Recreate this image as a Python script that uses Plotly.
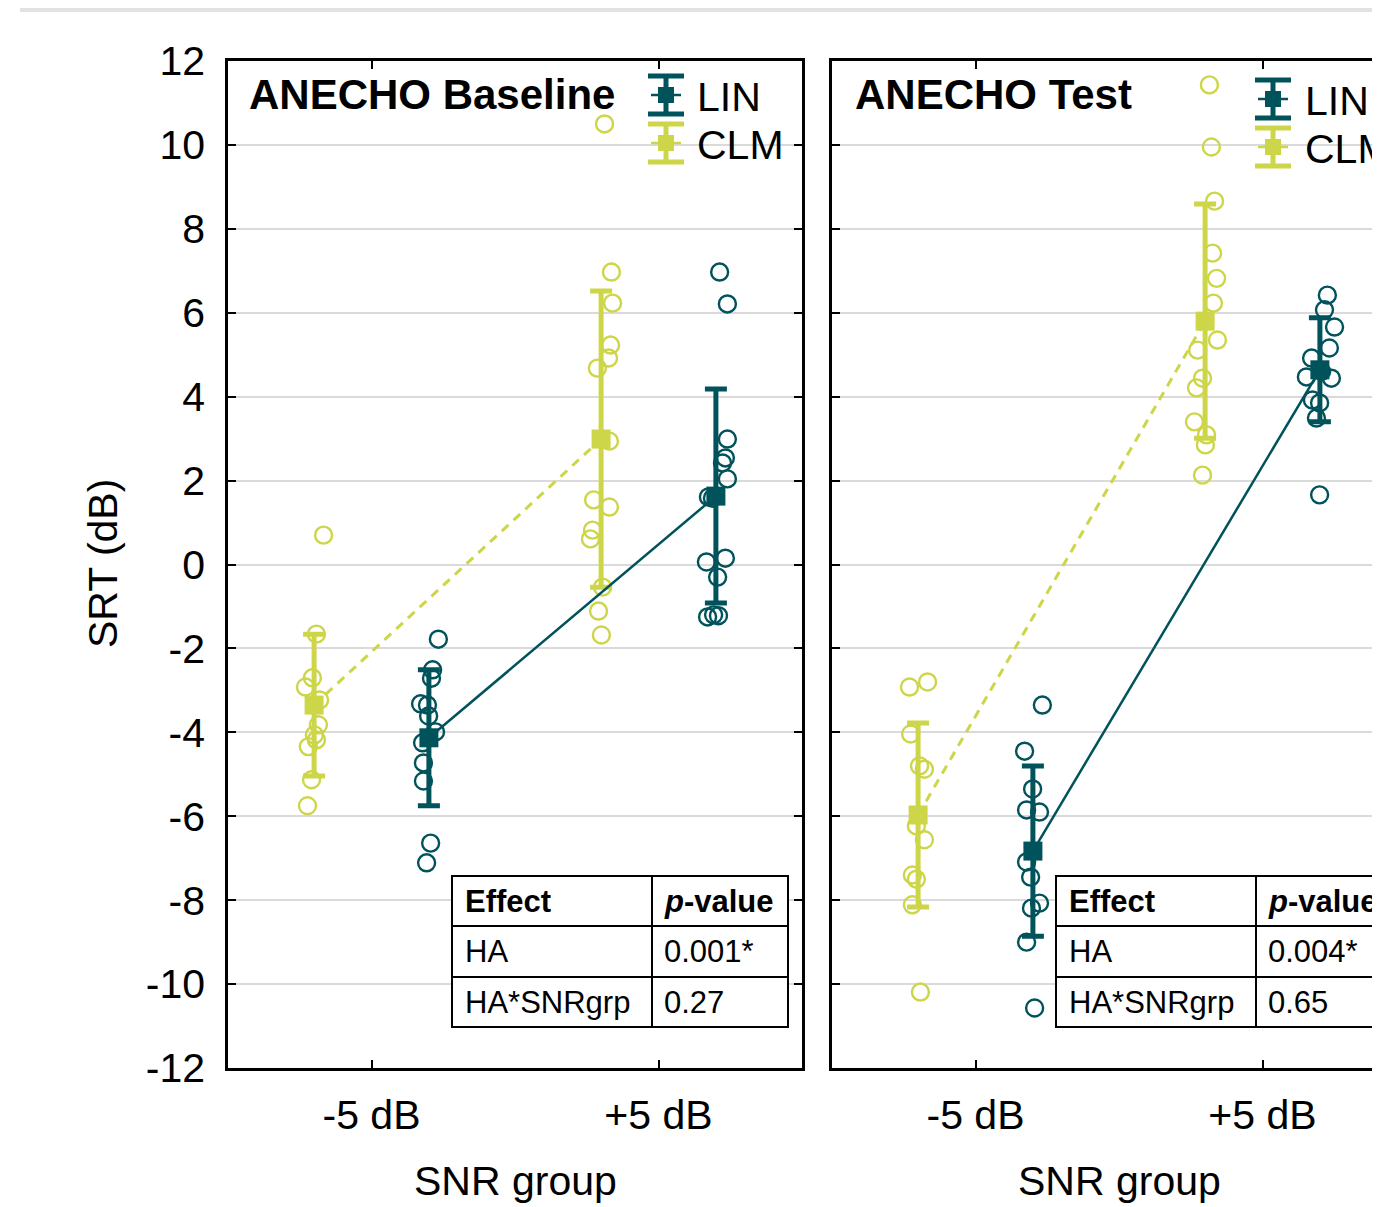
import plotly.graph_objects as go

# ---------------- data ----------------
snr_groups = ["-5 dB", "+5 dB"]
y_tick_vals = [-12, -10, -8, -6, -4, -2, 0, 2, 4, 6, 8, 10, 12]
y_tick_text = ["-12", "-10", "-8", "-6", "-4", "-2", "0", "2", "4", "6", "8", "10", "12"]
panel_titles = ["ANECHO Baseline", "ANECHO Test"]
ha_names = ["LIN", "CLM"]

# individual SRTs (dB) per panel / HA / SNR group
base_clm_m5 = [0.70, -1.66, -2.70, -2.92, -3.23, -3.82, -4.06, -4.34, -4.18, -5.13, -5.75]
base_clm_m5_jit = [0.033, 0.008, -0.006, -0.030, 0.019, 0.015, 0.001, -0.020, 0.008, -0.009, -0.023]
base_lin_m5 = [-1.78, -2.51, -2.71, -3.32, -3.35, -3.61, -3.99, -4.25, -4.73, -5.16, -6.64, -7.11]
base_lin_m5_jit = [0.033, 0.013, 0.009, -0.029, -0.005, -0.001, 0.023, -0.022, -0.019, -0.019, 0.006, -0.008]
base_clm_p5 = [10.50, 6.97, 6.23, 5.23, 4.92, 4.68, 2.94, 1.54, 1.37, 0.82, 0.61, -0.54, -1.11, -1.68]
base_clm_p5_jit = [0.012, 0.036, 0.040, 0.033, 0.026, -0.013, 0.029, -0.026, 0.029, -0.030, -0.037, 0.005, -0.009, 0.001]
base_lin_p5 = [6.97, 6.21, 2.99, 2.54, 2.42, 2.04, 1.61, 1.58, 0.06, 0.15, -0.30, -1.25, -1.20, -1.22]
base_lin_p5_jit = [0.013, 0.040, 0.040, 0.033, 0.023, 0.040, -0.026, -0.012, -0.033, 0.033, 0.006, -0.029, -0.008, 0.009]

test_clm_m5 = [-2.92, -2.80, -4.04, -4.80, -4.88, -6.23, -6.56, -7.40, -7.50, -8.11, -10.19]
test_clm_m5_jit = [-0.030, 0.033, -0.026, 0.005, 0.022, -0.006, 0.022, -0.020, -0.006, -0.020, 0.008]
test_lin_m5 = [-3.35, -4.45, -5.35, -5.85, -5.90, -7.09, -7.45, -8.07, -8.19, -9.00, -10.57]
test_lin_m5_jit = [0.033, -0.029, -0.001, -0.022, 0.023, -0.022, -0.008, 0.023, -0.005, -0.022, 0.006]
test_clm_p5 = [11.43, 9.95, 8.66, 7.42, 6.82, 6.23, 5.35, 5.11, 4.44, 4.21, 3.40, 3.09, 2.85, 2.13]
test_clm_p5_jit = [0.015, 0.022, 0.033, 0.026, 0.040, 0.029, 0.043, -0.026, -0.009, -0.030, -0.037, 0.005, 0.001, -0.009]
test_lin_p5 = [6.42, 6.07, 5.66, 5.16, 4.92, 4.47, 4.44, 4.60, 3.92, 3.85, 3.49, 1.66]
test_lin_p5_jit = [0.026, 0.016, 0.051, 0.033, -0.029, -0.047, 0.040, 0.006, -0.026, -0.001, -0.012, -0.001]

# group means and SDs  [-5 dB, +5 dB]
base_lin_mean = [-4.13, 1.63]
base_lin_sd = [1.62, 2.55]
base_clm_mean = [-3.35, 2.99]
base_clm_sd = [1.69, 3.53]
test_lin_mean = [-6.83, 4.64]
test_lin_sd = [2.03, 1.24]
test_clm_mean = [-5.97, 5.80]
test_clm_sd = [2.19, 2.79]

# statistics tables
table_header = ["Effect", "<i>p</i>-value"]
table_effects = ["HA", "HA*SNRgrp"]
base_pvalues = ["0.001*", "0.27"]
test_pvalues = ["0.004*", "0.65"]

# ---------------- styling ----------------
LIN_COLOR = "#00525b"
CLM_COLOR = "#cdd548"
FONT = "Liberation Sans, Arial, sans-serif"
HA_OFFSET = {"LIN": 0.2, "CLM": -0.2}

# the page body adds an 8px offset; the figure covers the rest of the window
PAGE_OFF = 8
W, H = 1380 - PAGE_OFF, 1207 - PAGE_OFF
ML, MT, MB = 228 - PAGE_OFF, 61 - PAGE_OFF, 139
PW, PH = W - ML, H - MT - MB


def px_x(p):
    # reference-window pixel -> paper coordinate
    return (p - PAGE_OFF - ML) / PW


def px_y(p):
    return (H - MB - (p - PAGE_OFF)) / PH


fig = go.Figure()

panels = [
    dict(xa="x", ya="y",
         points={"CLM": [(0, base_clm_m5, base_clm_m5_jit), (1, base_clm_p5, base_clm_p5_jit)],
                 "LIN": [(0, base_lin_m5, base_lin_m5_jit), (1, base_lin_p5, base_lin_p5_jit)]},
         means={"CLM": (base_clm_mean, base_clm_sd), "LIN": (base_lin_mean, base_lin_sd)}),
    dict(xa="x2", ya="y2",
         points={"CLM": [(0, test_clm_m5, test_clm_m5_jit), (1, test_clm_p5, test_clm_p5_jit)],
                 "LIN": [(0, test_lin_m5, test_lin_m5_jit), (1, test_lin_p5, test_lin_p5_jit)]},
         means={"CLM": (test_clm_mean, test_clm_sd), "LIN": (test_lin_mean, test_lin_sd)}),
]

colors = {"LIN": LIN_COLOR, "CLM": CLM_COLOR}

for pan in panels:
    # individual points
    for ha in ["CLM", "LIN"]:
        xs, ys = [], []
        for gi, vals, jit in pan["points"][ha]:
            for v, j in zip(vals, jit):
                xs.append(gi + HA_OFFSET[ha] + j)
                ys.append(v)
        fig.add_trace(go.Scatter(
            x=xs, y=ys, mode="markers", xaxis=pan["xa"], yaxis=pan["ya"],
            marker=dict(symbol="circle-open", size=17, color=colors[ha],
                        line=dict(width=2.4, color=colors[ha])),
            showlegend=False, hoverinfo="y"))
    # means with SD error bars and connecting lines
    for ha in ["CLM", "LIN"]:
        m, sd = pan["means"][ha]
        fig.add_trace(go.Scatter(
            x=[i + HA_OFFSET[ha] for i in range(len(snr_groups))], y=m,
            mode="lines+markers", xaxis=pan["xa"], yaxis=pan["ya"],
            line=dict(color=colors[ha], width=3 if ha == "CLM" else 2.5,
                      dash="9px,7px" if ha == "CLM" else "solid"),
            marker=dict(symbol="square", size=19, color=colors[ha]),
            error_y=dict(type="data", array=sd, visible=True, color=colors[ha],
                         thickness=5, width=11),
            showlegend=False, name=ha))

axis_common = dict(
    zeroline=False, showline=True, linecolor="black", linewidth=2.5,
    ticks="inside", ticklen=8, tickwidth=2, tickcolor="black",
    tickfont=dict(family=FONT, size=41, color="black"),
)

right_max = -0.5 + 2.0 * (1380 - 832) / (802 - 228)

fig.update_layout(
    width=W, height=H,
    margin=dict(l=ML, r=0, t=MT, b=MB, pad=0),
    paper_bgcolor="white", plot_bgcolor="white",
    font=dict(family=FONT, color="black"),
    showlegend=False,
    xaxis=dict(domain=[0, px_x(802)], range=[-0.5, 1.5], tickvals=[0, 1], ticktext=snr_groups,
               mirror="ticks", anchor="y", ticklabelstandoff=9, showgrid=False, **axis_common),
    yaxis=dict(domain=[0, 1], range=[-12, 12], tickvals=y_tick_vals, ticktext=y_tick_text,
               mirror="ticks", anchor="x", showgrid=True, gridcolor="#dadada", gridwidth=1.5,
               ticklabelstandoff=12, **axis_common),
    xaxis2=dict(domain=[px_x(832), 1], range=[-0.5, right_max], tickvals=[0, 1], ticktext=snr_groups,
                mirror="ticks", anchor="y2", ticklabelstandoff=9, showgrid=False, **axis_common),
    yaxis2=dict(domain=[0, 1], range=[-12, 12], tickvals=y_tick_vals, showticklabels=False,
                mirror=False, anchor="x2", showgrid=True, gridcolor="#dadada", gridwidth=1.5,
                **axis_common),
)

shapes = []
annotations = []

# grey header bar
shapes.append(dict(type="rect", xref="paper", yref="paper", x0=px_x(20), x1=px_x(1400),
                   y0=px_y(-10), y1=px_y(12), fillcolor="#e1e2e4", line=dict(width=0), layer="below"))

# axis titles
annotations.append(dict(text="SRT (dB)", xref="paper", yref="paper", x=px_x(103), y=px_y(564),
                        textangle=-90, showarrow=False, font=dict(size=41, family=FONT),
                        xanchor="center", yanchor="middle"))
for cx in [515, 1119]:
    annotations.append(dict(text="SNR group", xref="paper", yref="paper", x=px_x(cx), y=px_y(1181),
                            showarrow=False, font=dict(size=41, family=FONT),
                            xanchor="center", yanchor="middle"))

panel_layout = [
    dict(title_x=250, leg_x=666, leg_text_x=697, leg_y=(95, 143), tab_x=(452, 652, 788), pvals=base_pvalues),
    dict(title_x=856, leg_x=1273, leg_text_x=1305, leg_y=(99, 147), tab_x=(1056, 1256, 1392), pvals=test_pvalues),
]

for pi, pl in enumerate(panel_layout):
    annotations.append(dict(text="<b>%s</b>" % panel_titles[pi], xref="paper", yref="paper",
                            x=px_x(pl["title_x"] - 3), y=px_y(95), showarrow=False,
                            font=dict(size=42, family=FONT), xanchor="left", yanchor="middle"))
    # custom legend
    for ha, cy in zip(ha_names, pl["leg_y"]):
        c = colors[ha]
        cx = pl["leg_x"]
        half = 19
        shapes.append(dict(type="line", xref="paper", yref="paper", x0=px_x(cx), x1=px_x(cx),
                           y0=px_y(cy - half), y1=px_y(cy + half), line=dict(color=c, width=5)))
        for dy in (-half, half):
            shapes.append(dict(type="line", xref="paper", yref="paper", x0=px_x(cx - 18), x1=px_x(cx + 18),
                               y0=px_y(cy + dy), y1=px_y(cy + dy), line=dict(color=c, width=5)))
        shapes.append(dict(type="line", xref="paper", yref="paper", x0=px_x(cx - 15), x1=px_x(cx + 15),
                           y0=px_y(cy), y1=px_y(cy), line=dict(color=c, width=2.5)))
        shapes.append(dict(type="rect", xref="paper", yref="paper", x0=px_x(cx - 8), x1=px_x(cx + 8),
                           y0=px_y(cy - 8), y1=px_y(cy + 8), fillcolor=c, line=dict(width=0)))
        annotations.append(dict(text=ha, xref="paper", yref="paper", x=px_x(pl["leg_text_x"] - 2), y=px_y(cy + 2),
                                showarrow=False, font=dict(size=41, family=FONT),
                                xanchor="left", yanchor="middle"))
    # statistics table
    x0, xm, x1 = pl["tab_x"]
    y0, y1, y2, y3 = 876, 926, 977, 1027
    shapes.append(dict(type="rect", xref="paper", yref="paper", x0=px_x(x0), x1=px_x(x1),
                       y0=px_y(y0), y1=px_y(y3), fillcolor="white", line=dict(color="black", width=2),
                       layer="above"))
    shapes.append(dict(type="line", xref="paper", yref="paper", x0=px_x(xm), x1=px_x(xm),
                       y0=px_y(y0), y1=px_y(y3), line=dict(color="black", width=2)))
    for yy in (y1, y2):
        shapes.append(dict(type="line", xref="paper", yref="paper", x0=px_x(x0), x1=px_x(x1),
                           y0=px_y(yy), y1=px_y(yy), line=dict(color="black", width=2)))
    rows = [[("<b>%s</b>" % table_header[0]), ("<b>%s</b>" % table_header[1])]]
    for eff, pv in zip(table_effects, pl["pvals"]):
        rows.append([eff, pv])
    row_centers = [(y0 + y1) / 2, (y1 + y2) / 2, (y2 + y3) / 2]
    for r, rc in zip(rows, row_centers):
        for txt, tx in zip(r, (x0 + 11, xm + 10)):
            annotations.append(dict(text=txt, xref="paper", yref="paper", x=px_x(tx), y=px_y(rc),
                                    showarrow=False, font=dict(size=31, family=FONT),
                                    xanchor="left", yanchor="middle"))

fig.update_layout(shapes=shapes, annotations=annotations)

fig.write_html("out.html")
